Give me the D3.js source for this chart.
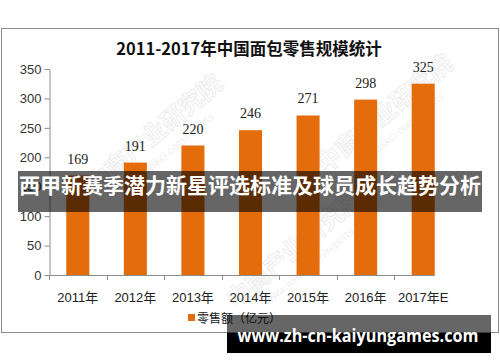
<!DOCTYPE html>
<html>
<head>
<meta charset="utf-8">
<script src="https://cdn.jsdelivr.net/npm/d3@7"></script>
<style>
  body { margin: 0; background: #fff; }
  svg { display: block; }
</style>
</head>
<body>
<svg></svg>
<script>
var width = 500,
  height = 362;

// data
var categories = ["2011年", "2012年", "2013年", "2014年", "2015年", "2016年", "2017年E"];
var values = [169, 191, 220, 246, 271, 298, 325];
var yTicks = [0, 50, 100, 150, 200, 250, 300, 350];
var title = "2011-2017年中国面包零售规模统计";
var legendLabel = "零售额（亿元）";
var bannerText = "西甲新赛季潜力新星评选标准及球员成长趋势分析";
var siteText = "www.zh-cn-kaiyungames.com";

var svg = d3.select("svg")
  .attr("width", width)
  .attr("height", height);

svg.append("rect")
  .attr("width", width)
  .attr("height", height)
  .attr("fill", "#fff");

// chart frame
svg.append("rect")
  .attr("x", 1.5)
  .attr("y", 28.5)
  .attr("width", 497)
  .attr("height", 304)
  .attr("fill", "none")
  .attr("stroke", "#8c8c8c");

// faint watermarks
var marks = [[160, 140], [390, 120], [300, 255]];
var wm = svg.append("g").attr("class", "watermark");
marks.forEach(function(m) {
  var g = wm.append("g").attr("transform", "translate(" + m[0] + "," + m[1] + ") rotate(-40)");
  g.append("text")
    .attr("text-anchor", "middle")
    .attr("font-family", "Noto Sans CJK SC")
    .attr("font-size", 24)
    .attr("font-weight", "bold")
    .attr("fill", "none")
    .attr("stroke", "#ededed")
    .attr("stroke-width", 1)
    .text("中商产业研究院");
  g.append("text")
    .attr("y", 18)
    .attr("text-anchor", "middle")
    .attr("font-family", "Liberation Sans")
    .attr("font-size", 11)
    .attr("fill", "#efefef")
    .text("www.askci.com/reports");
});

svg.append("text")
  .attr("x", 249)
  .attr("y", 55)
  .attr("text-anchor", "middle")
  .attr("font-family", "'Noto Sans CJK SC', sans-serif")
  .attr("font-size", 16.5)
  .attr("font-weight", "bold")
  .attr("fill", "#111")
  .text(title);

var x = d3.scaleBand()
  .domain(categories)
  .range([49, 452])
  .paddingInner(0.6)
  .paddingOuter(0.3);

var y = d3.scaleLinear()
  .domain([0, 350])
  .range([275, 69]);

// y axis
var yAxis = svg.append("g")
  .attr("transform", "translate(49.5,0)")
  .call(d3.axisLeft(y).tickValues(yTicks).tickSize(5).tickPadding(3).tickSizeOuter(0));
yAxis.select(".domain").attr("stroke", "#8c8c8c");
yAxis.selectAll(".tick line").attr("stroke", "#8c8c8c");
yAxis.selectAll(".tick text")
  .attr("font-family", "'Liberation Sans', Arial, sans-serif")
  .attr("font-size", 13)
  .attr("fill", "#333");

// bars
svg.append("g")
  .selectAll("rect")
  .data(values)
  .enter().append("rect")
  .attr("x", function(d, i) { return x(categories[i]); })
  .attr("y", function(d) { return y(d); })
  .attr("width", x.bandwidth())
  .attr("height", function(d) { return y(0) - y(d); })
  .attr("fill", "#e46c0a");

// value labels
svg.append("g")
  .selectAll("text")
  .data(values)
  .enter().append("text")
  .attr("x", function(d, i) { return x(categories[i]) + x.bandwidth() / 2; })
  .attr("y", function(d) { return y(d) - 12; })
  .attr("text-anchor", "middle")
  .attr("font-family", "'Liberation Serif', serif")
  .attr("font-size", 14)
  .attr("fill", "#222")
  .text(function(d) { return d; });

// x axis line and category boundary ticks
var step = x.step(),
  x0 = x(categories[0]) - step * 0.3;
var lastBar = x(categories[categories.length - 1]) + x.bandwidth();
svg.append("line")
  .attr("x1", 49)
  .attr("x2", lastBar)
  .attr("y1", y(0) + 0.5)
  .attr("y2", y(0) + 0.5)
  .attr("stroke", "#8c8c8c");
svg.append("g")
  .selectAll("line")
  .data(categories)
  .enter().append("line")
  .attr("x1", function(d, i) { return Math.round(x0 + i * step) + 0.5; })
  .attr("x2", function(d, i) { return Math.round(x0 + i * step) + 0.5; })
  .attr("y1", y(0))
  .attr("y2", y(0) + 5)
  .attr("stroke", "#8c8c8c");

svg.append("g")
  .selectAll("text")
  .data(categories)
  .enter().append("text")
  .attr("x", function(d) { return x(d) + x.bandwidth() / 2; })
  .attr("y", 302)
  .attr("text-anchor", "middle")
  .attr("font-family", "'Liberation Sans', 'Noto Sans CJK SC', sans-serif")
  .attr("font-size", 13)
  .attr("fill", "#222")
  .text(function(d) { return d; });

// legend
svg.append("rect")
  .attr("x", 188)
  .attr("y", 314)
  .attr("width", 7)
  .attr("height", 7)
  .attr("fill", "#e46c0a");
svg.append("text")
  .attr("x", 197)
  .attr("y", 323)
  .attr("font-family", "'Noto Sans CJK SC', sans-serif")
  .attr("font-size", 12)
  .attr("fill", "#222")
  .text(legendLabel);

// overlay banner
svg.append("rect")
  .attr("x", 18)
  .attr("y", 171)
  .attr("width", 464)
  .attr("height", 41)
  .attr("fill", "rgba(0,0,0,0.6)");
svg.append("text")
  .attr("x", 250)
  .attr("y", 193)
  .attr("text-anchor", "middle")
  .attr("font-family", "'Noto Sans CJK SC', sans-serif")
  .attr("font-size", 21)
  .attr("font-weight", "bold")
  .attr("fill", "#fff")
  .text(bannerText);

// site pill
svg.append("rect")
  .attr("x", 227)
  .attr("y", 315)
  .attr("width", 264)
  .attr("height", 18)
  .attr("fill", "rgba(0,0,0,0.6)");
svg.append("rect")
  .attr("x", 227)
  .attr("y", 333)
  .attr("width", 264)
  .attr("height", 20)
  .attr("fill", "#000");
svg.append("text")
  .attr("x", 358)
  .attr("y", 342)
  .attr("text-anchor", "middle")
  .attr("font-family", "'Open Sans', sans-serif")
  .attr("font-size", 17)
  .attr("font-weight", "bold")
  .attr("fill", "#fff")
  .attr("textLength", 241)
  .attr("lengthAdjust", "spacingAndGlyphs")
  .text(siteText);
</script>
</body>
</html>
